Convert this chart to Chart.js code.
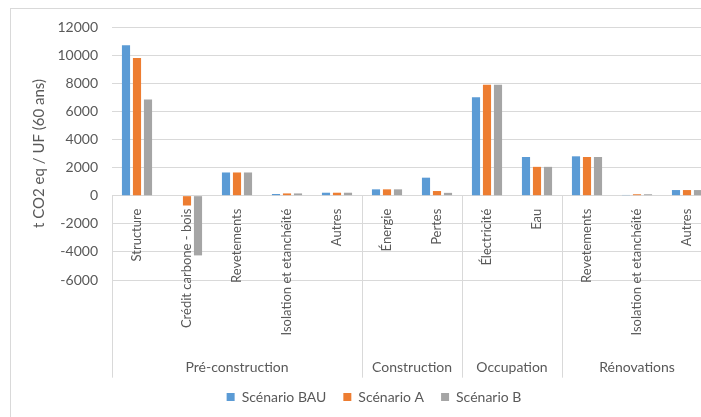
<!DOCTYPE html>
<html>
<head>
<meta charset="utf-8">
<script src="https://cdn.jsdelivr.net/npm/chart.js@4"></script>
<style>
  body { margin: 0; background: #fff; overflow: hidden; }
  #wrap { position: absolute; left: 0; top: 0; width: 701px; height: 417px; overflow: hidden; }
  #frame { position: absolute; left: 10px; top: 8px; width: 900px; height: 600px; border: 1px solid #d9d9d9; }
  canvas { position: absolute; left: 0; top: 0; }
</style>
</head>
<body>
<div id="wrap">
  <div id="frame"></div>
  <canvas id="myChart" width="722" height="417"></canvas>
</div>
<script>
// categories along the x axis (12 of them, in 4 phases)
var categories = ['Structure', 'Crédit carbone - bois', 'Revetements', 'Isolation et etanchéité', 'Autres',
  'Énergie', 'Pertes', 'Électricité', 'Eau', 'Revetements', 'Isolation et etanchéité', 'Autres']
var groupNames = ['Pré-construction', 'Construction', 'Occupation', 'Rénovations']
var groupSizes = [5, 2, 2, 3]

var scenarioBAU = [10700, 0, 1650, 120, 210, 450, 1280, 7000, 2750, 2800, 50, 400]
var scenarioA = [9800, -700, 1650, 160, 210, 450, 330, 7900, 2050, 2750, 100, 400]
var scenarioB = [6850, -4250, 1650, 160, 210, 450, 200, 7900, 2050, 2750, 100, 400]

var yMin = -6000
var yMax = 12000
var yStep = 2000

var textColor = '#595959'
var gridColor = '#d9d9d9'
var fontFamily = 'Lato, "Open Sans", sans-serif'

// draws the phase dividers and phase names under the category labels
var groupPlugin = {
  id: 'groups',
  afterDraw: function(chart) {
    var x = chart.scales.x
    var y0 = chart.scales.y.getPixelForValue(0)
    var ctx = chart.ctx
    var half = (x.getPixelForValue(1) - x.getPixelForValue(0)) / 2
    ctx.save()
    ctx.strokeStyle = gridColor
    ctx.lineWidth = 1
    var start = 0
    var left = Math.round(x.getPixelForValue(0) - half) + 0.5
    ctx.beginPath()
    ctx.moveTo(left, y0)
    ctx.lineTo(left, y0 + 182)
    ctx.stroke()
    ctx.fillStyle = textColor
    ctx.font = '14px ' + fontFamily
    ctx.textAlign = 'center'
    ctx.textBaseline = 'middle'
    for (var i = 0; i < groupNames.length; i++) {
      var end = start + groupSizes[i] - 1
      var a = x.getPixelForValue(start) - half
      var b = x.getPixelForValue(end) + half
      var bx = Math.round(b) + 0.5
      ctx.beginPath()
      ctx.moveTo(bx, y0)
      ctx.lineTo(bx, y0 + 182)
      ctx.stroke()
      ctx.fillText(groupNames[i], (a + b) / 2, y0 + 172)
      start = end + 1
    }
    ctx.restore()
  }
}

var ctx = document.getElementById('myChart')
new Chart(ctx, {
  type: 'bar',
  data: {
    labels: categories,
    datasets: [
      { label: 'Scénario BAU', data: scenarioBAU, backgroundColor: '#5B9BD5' },
      { label: 'Scénario A', data: scenarioA, backgroundColor: '#ED7D31' },
      { label: 'Scénario B', data: scenarioB, backgroundColor: '#A5A5A5' }
    ]
  },
  plugins: [groupPlugin],
  options: {
    responsive: false,
    animation: false,
    categoryPercentage: 0.66,
    barPercentage: 0.74,
    layout: { padding: { left: 26, top: 27, right: 0, bottom: 3 } },
    plugins: {
      legend: {
        position: 'bottom',
        labels: {
          boxWidth: 8, boxHeight: 8, padding: 17,
          color: textColor,
          font: { family: fontFamily, size: 14 }
        }
      },
      tooltip: { enabled: false }
    },
    scales: {
      x: {
        position: { y: 0 },
        grid: { display: false },
        border: { display: false },
        ticks: {
          autoSkip: false, minRotation: 90, maxRotation: 90, padding: 5,
          color: textColor,
          font: { family: fontFamily, size: 13 }
        }
      },
      x2: {
        type: 'category',
        labels: categories,
        position: 'bottom',
        grid: { display: false },
        border: { display: false },
        ticks: { display: false },
        afterFit: function(s) { s.height = 93 }
      },
      y: {
        min: yMin, max: yMax,
        grid: { color: gridColor, drawTicks: false },
        border: { display: false },
        ticks: {
          stepSize: yStep, padding: 14,
          color: textColor,
          font: { family: fontFamily, size: 14 },
          callback: function(v) { return String(v) }
        },
        title: {
          display: true,
          text: 't CO2 eq / UF (60 ans)',
          color: textColor,
          font: { family: fontFamily, size: 15 }
        },
        afterFit: function(s) { s.width = 86 }
      },
      // empty right-hand axis: keeps the plot at 50 px per category
      y2: {
        type: 'linear',
        position: 'right',
        grid: { display: false },
        border: { display: false },
        ticks: { display: false },
        afterFit: function(s) { s.width = 10 }
      }
    }
  }
})
</script>
</body>
</html>
